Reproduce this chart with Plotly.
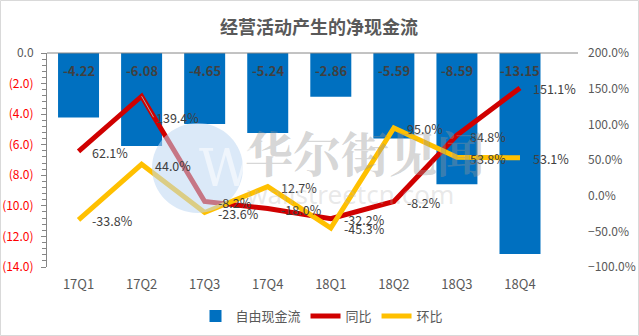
import plotly.graph_objects as go

categories = ["17Q1", "17Q2", "17Q3", "17Q4", "18Q1", "18Q2", "18Q3", "18Q4"]
free_cash_flow = [-4.22, -6.08, -4.65, -5.24, -2.86, -5.59, -8.59, -13.15]
yoy = [62.1, 139.4, -8.2, -18.0, -32.2, -8.2, 84.8, 151.1]
qoq = [-33.8, 44.0, -23.6, 12.7, -45.3, 95.0, 53.8, 53.1]

left_ticks = [0, -2, -4, -6, -8, -10, -12, -14]
left_ticktext = ["<span style='color:#595959'>0.0</span>"] + [f"({abs(v):.1f})" for v in left_ticks[1:]]

FONT = "Noto Sans CJK SC"
BLUE = "#0070C0"
RED = "#D00000"
YELLOW = "#FFC000"
GRAY = "#595959"
LBL = "#404040"

fig = go.Figure()
fig.add_trace(go.Bar(
    x=categories, y=free_cash_flow, name="自由现金流",
    marker=dict(color=BLUE, line=dict(width=0)), yaxis="y",
    hoverinfo="skip",
))
fig.add_trace(go.Scatter(
    x=categories, y=yoy, name="同比", mode="lines", yaxis="y2",
    line=dict(color=RED, width=5),
))
fig.add_trace(go.Scatter(
    x=categories, y=qoq, name="环比", mode="lines", yaxis="y2",
    line=dict(color=YELLOW, width=5),
))

annotations = []
for c, v in zip(categories, free_cash_flow):
    annotations.append(dict(x=c, y=0, xref="x", yref="y", text=f"<b>{v:.2f}</b>",
                            showarrow=False, yanchor="middle", yshift=-17,
                            font=dict(family=FONT, size=13, color=LBL)))
for i, (c, v) in enumerate(zip(categories, yoy)):
    if i == 1:
        annotations.append(dict(x=c, y=v, xref="x", yref="y2", text=f"{v:.1f}%",
                                showarrow=True, arrowhead=0, arrowwidth=1, arrowcolor="#A6A6A6",
                                ax=12, ay=21, xanchor="left", yanchor="middle",
                                font=dict(family=FONT, size=12.5, color=LBL)))
    else:
        annotations.append(dict(x=c, y=v, xref="x", yref="y2", text=f"{v:.1f}%",
                                showarrow=False, xanchor="left", yanchor="middle",
                                xshift=11, yshift=-1,
                                font=dict(family=FONT, size=12.5, color=LBL)))
for c, v in zip(categories, qoq):
    annotations.append(dict(x=c, y=v, xref="x", yref="y2", text=f"{v:.1f}%",
                            showarrow=False, xanchor="left", yanchor="middle",
                            xshift=11, yshift=-1,
                            font=dict(family=FONT, size=12.5, color=LBL)))

PW, PH = 531, 214
def px_x(p):
    return (p - 47) / PW
def px_y(p):
    return (267 - p) / PH

# watermark
annotations.append(dict(x=px_x(365), y=px_y(151), xref="paper", yref="paper",
                        text="<b>华尔街见闻</b>", showarrow=False,
                        font=dict(family="Noto Serif CJK SC, Noto Sans CJK SC", size=48,
                                  color="rgba(150,150,150,0.40)")))
annotations.append(dict(x=px_x(350), y=px_y(194), xref="paper", yref="paper",
                        text="wallstreetcn.com", showarrow=False,
                        font=dict(family="Noto Sans", size=26, color="rgba(180,180,180,0.30)")))
annotations.append(dict(x=px_x(197), y=px_y(168), xref="paper", yref="paper",
                        text="W", showarrow=False,
                        font=dict(family="DejaVu Serif", size=52, color="rgba(255,255,255,0.55)")))

shapes = [
    dict(type="line", xref="paper", yref="paper", x0=0, x1=1, y0=1, y1=1,
         line=dict(color="#868686", width=1)),
    dict(type="circle", xref="paper", yref="paper", layer="above",
         x0=px_x(152), x1=px_x(243), y0=px_y(123), y1=px_y(213),
         fillcolor="rgba(190,215,242,0.55)", line=dict(width=0)),
    dict(type="rect", xref="paper", yref="paper",
         x0=px_x(0.5), x1=px_x(638.5), y0=px_y(335.5), y1=px_y(0.5),
         line=dict(color="#D9D9D9", width=1)),
]

fig.update_layout(
    width=639, height=336,
    margin=dict(l=47, r=61, t=53, b=69, autoexpand=False),
    paper_bgcolor="white", plot_bgcolor="white",
    font=dict(family=FONT, size=12, color=GRAY),
    title=dict(text="<b>经营活动产生的净现金流</b>", x=319 / 639, xanchor="center",
               y=1 - 28 / 336, yanchor="middle",
               font=dict(family=FONT, size=18, color=GRAY)),
    bargap=0.35,
    showlegend=True,
    legend=dict(orientation="h", x=322 / 639, xanchor="center", xref="container",
                y=1 - 316 / 336, yanchor="middle", yref="container",
                font=dict(family=FONT, size=13, color=GRAY), traceorder="normal",
                itemwidth=30, bgcolor="rgba(0,0,0,0)"),
    xaxis=dict(type="category", showline=False, ticks="", showgrid=False, automargin=False,
               tickfont=dict(family=FONT, size=13, color=GRAY), ticklabelstandoff=8),
    yaxis=dict(range=[-14, 0], tickmode="array", tickvals=left_ticks, ticktext=left_ticktext,
               showgrid=False, zeroline=False, showline=True, linecolor="#868686", linewidth=1,
               ticks="outside", ticklen=5, tickcolor="#868686", automargin=False,
               minor=dict(ticks="outside", ticklen=4, tickcolor="#868686", dtick=0.4, tick0=0,
                          showgrid=False),
               tickfont=dict(family=FONT, size=12, color="#FF0000"), ticklabelstandoff=5),
    yaxis2=dict(overlaying="y", side="right", range=[-100, 200], tickmode="linear",
                tick0=-100, dtick=50, ticksuffix="%", tickformat=".1f", automargin=False,
                showgrid=False, zeroline=False, showline=False, ticks="",
                tickfont=dict(family=FONT, size=12, color=GRAY), ticklabelstandoff=9),
    annotations=annotations,
    shapes=shapes,
)

fig.write_html("out.html")
